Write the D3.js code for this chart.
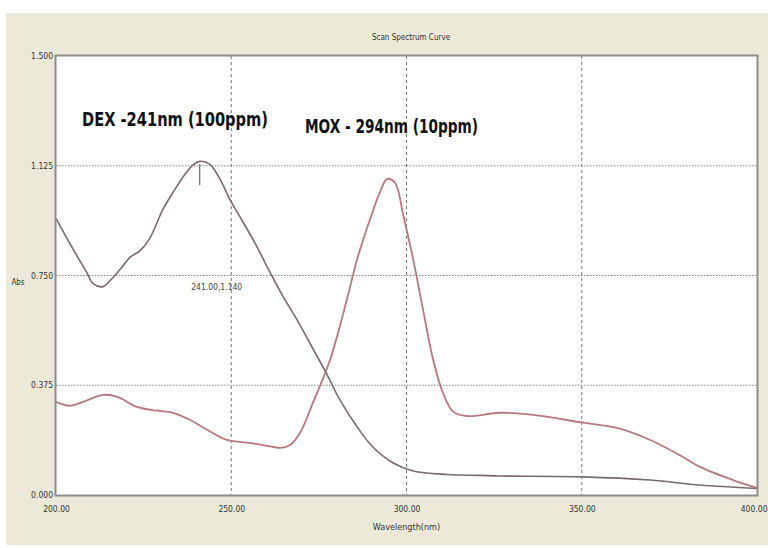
<!DOCTYPE html>
<html>
<head>
<meta charset="utf-8">
<script src="https://cdn.jsdelivr.net/npm/d3@7"></script>
<style>
  body { margin: 0; background: #fff; }
  svg { display: block; }
  .tick text { font-family: "Liberation Sans Narrow", "DejaVu Sans Condensed", sans-serif; font-size: 8.5px; fill: #333; }
</style>
</head>
<body>
<div id="chart"></div>
<script>
// wavelength (nm) / absorbance
const dexNm  = [200, 204.9, 208.8, 210.6, 213.4, 215.4, 218.3, 221.1, 224, 226.8, 230.5, 233.4, 236.2, 239.1, 241, 243.9, 246.8, 249.6, 253.4, 257.3, 261.1, 264.8, 268.7, 273.3, 277.3, 281, 285.9, 290.4, 296.1, 301.9, 311.6, 321, 326.7, 350.4, 369.5, 383.7, 400];
const dexAbs = [0.945, 0.839, 0.760, 0.722, 0.712, 0.732, 0.771, 0.812, 0.835, 0.878, 0.976, 1.034, 1.086, 1.128, 1.140, 1.130, 1.079, 1.010, 0.932, 0.849, 0.760, 0.678, 0.600, 0.500, 0.412, 0.325, 0.233, 0.164, 0.110, 0.082, 0.070, 0.067, 0.065, 0.062, 0.051, 0.034, 0.022];

const moxNm  = [200, 204, 207.7, 213.4, 217.4, 223.1, 228.8, 233.4, 238.2, 243.1, 248.8, 255.3, 260.2, 263.9, 266.8, 269.6, 273.3, 278.2, 283, 285.9, 289.6, 292.4, 294.5, 296.8, 299, 301.9, 304.7, 307.6, 310.4, 313.3, 317.3, 326.7, 336.1, 350.4, 360.1, 369.5, 378.9, 383.7, 393.2, 400];
const moxAbs = [0.318, 0.305, 0.318, 0.342, 0.336, 0.301, 0.288, 0.281, 0.257, 0.223, 0.188, 0.178, 0.168, 0.161, 0.171, 0.212, 0.315, 0.462, 0.668, 0.805, 0.942, 1.034, 1.080, 1.065, 0.960, 0.805, 0.634, 0.462, 0.349, 0.285, 0.270, 0.281, 0.274, 0.247, 0.229, 0.188, 0.130, 0.096, 0.051, 0.024];

const xTicks = [200, 250, 300, 350, 400];
const yTicks = [0, 0.375, 0.75, 1.125, 1.5];

const peak = { nm: 241, abs: 1.14, label: "241.00,1.140" };

const width = 768, height = 548;
const margin = { top: 56, right: 10, bottom: 53, left: 56 };

const svg = d3.select('#chart')
    .append('svg')
    .attr('width', width)
    .attr('height', height);

// window background
svg.append('rect')
    .attr('x', 6).attr('y', 13)
    .attr('width', width - 6).attr('height', 532)
    .attr('fill', '#ece9d8');

const x = d3.scaleLinear().domain([200, 400]).range([margin.left, width - margin.right - 1]);
const y = d3.scaleLinear().domain([0, 1.5]).range([height - margin.bottom, margin.top]);

// plot area
svg.append('rect')
    .attr('x', x(200)).attr('y', y(1.5))
    .attr('width', x(400) - x(200)).attr('height', y(0) - y(1.5))
    .attr('fill', '#fff');

// grid
svg.append('g')
    .selectAll('line')
    .data(xTicks.slice(1, -1))
    .join('line')
    .attr('x1', d => x(d)).attr('x2', d => x(d))
    .attr('y1', y(1.5)).attr('y2', y(0))
    .attr('stroke', '#777')
    .attr('stroke-dasharray', '3,3');

svg.append('g')
    .selectAll('line')
    .data(yTicks.slice(1, -1))
    .join('line')
    .attr('x1', x(200)).attr('x2', x(400))
    .attr('y1', d => y(d)).attr('y2', d => y(d))
    .attr('stroke', '#888')
    .attr('stroke-dasharray', '1.5,1.5');

// axes (labels only, frame drawn below)
svg.append('g')
    .attr('transform', `translate(0,${y(0) + 8})`)
    .call(d3.axisBottom(x).tickValues(xTicks).tickFormat(d3.format('.2f')).tickSize(0))
    .call(g => g.select('.domain').remove())
    .call(g => g.selectAll('.tick text').filter(d => d === 400)
        .attr('text-anchor', 'end').attr('dx', 10));

svg.append('g')
    .attr('transform', `translate(${x(200) - 1},0)`)
    .call(d3.axisLeft(y).tickValues(yTicks).tickFormat(d3.format('.3f')).tickSize(0).tickPadding(2))
    .call(g => g.select('.domain').remove());

// curves
const line = d3.line()
    .x(d => x(d[0]))
    .y(d => y(d[1]))
    .curve(d3.curveCatmullRom.alpha(0.5));

svg.append('path')
    .datum(d3.zip(moxNm, moxAbs))
    .attr('fill', 'none')
    .attr('stroke', '#b9787e')
    .attr('stroke-width', 1.8)
    .attr('d', line);

svg.append('path')
    .datum(d3.zip(dexNm, dexAbs))
    .attr('fill', 'none')
    .attr('stroke', '#7a6a6e')
    .attr('stroke-width', 1.6)
    .attr('d', line);

// peak marker
svg.append('line')
    .attr('x1', x(peak.nm)).attr('x2', x(peak.nm))
    .attr('y1', y(peak.abs) + 3).attr('y2', y(peak.abs) + 24)
    .attr('stroke', '#6a6a6a')
    .attr('stroke-width', 1.2);

svg.append('text')
    .attr('x', x(peak.nm) + 17)
    .attr('y', y(0.7))
    .attr('text-anchor', 'middle')
    .attr('font-family', '"Liberation Sans Narrow", "DejaVu Sans Condensed", sans-serif')
    .attr('font-size', 8.5)
    .attr('fill', '#444')
    .text(peak.label);

// frame
svg.append('rect')
    .attr('x', x(200) - 0.5).attr('y', y(1.5) - 0.5)
    .attr('width', x(400) - x(200) + 1).attr('height', y(0) - y(1.5) + 1)
    .attr('fill', 'none')
    .attr('stroke', '#8c8c8c')
    .attr('stroke-width', 2);

// titles
svg.append('text')
    .attr('x', 411).attr('y', 40)
    .attr('text-anchor', 'middle')
    .attr('font-family', '"Liberation Sans Narrow", "DejaVu Sans Condensed", sans-serif')
    .attr('font-size', 8)
    .attr('fill', '#333')
    .text('Scan Spectrum Curve');

svg.append('text')
    .attr('x', (x(200) + x(400)) / 2).attr('y', 530)
    .attr('text-anchor', 'middle')
    .attr('font-family', '"Liberation Sans Narrow", "DejaVu Sans Condensed", sans-serif')
    .attr('font-size', 9)
    .attr('fill', '#333')
    .text('Wavelength(nm)');

svg.append('text')
    .attr('x', 18).attr('y', 285)
    .attr('text-anchor', 'middle')
    .attr('font-family', '"Liberation Sans Narrow", "DejaVu Sans Condensed", sans-serif')
    .attr('font-size', 8)
    .attr('fill', '#333')
    .text('Abs');

// annotations
const note = svg.append('g')
    .attr('font-family', '"Liberation Sans Narrow", "DejaVu Sans Condensed", sans-serif')
    .attr('font-weight', 'bold')
    .attr('font-size', 20)
    .attr('fill', '#111');

note.append('text')
    .attr('x', 82).attr('y', 126)
    .attr('textLength', 186).attr('lengthAdjust', 'spacingAndGlyphs')
    .text('DEX -241nm (100ppm)');

note.append('text')
    .attr('x', 305).attr('y', 133)
    .attr('textLength', 173).attr('lengthAdjust', 'spacingAndGlyphs')
    .text('MOX - 294nm (10ppm)');
</script>
</body>
</html>
